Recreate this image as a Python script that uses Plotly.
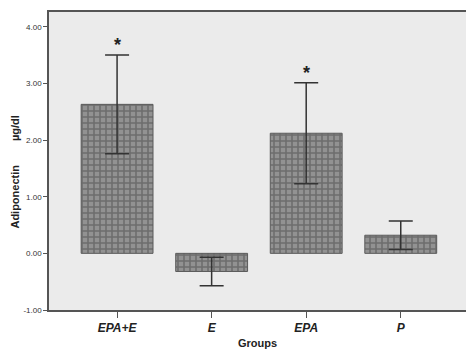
import plotly.graph_objects as go

groups = ["EPA+E", "E", "EPA", "P"]
means = [2.63, -0.32, 2.12, 0.32]
errors = [0.87, 0.25, 0.89, 0.25]
stars = ["*", "", "*", ""]
y_ticks = [-1.0, 0.0, 1.0, 2.0, 3.0, 4.0]
y_tick_labels = ["-1.00", "0.00", "1.00", "2.00", "3.00", "4.00"]

fig = go.Figure()
fig.add_trace(go.Bar(
    x=groups, y=means, width=0.76,
    marker=dict(
        color="#8c8c8c",
        line=dict(color="#5a5a5a", width=1),
        pattern=dict(shape="+", fgcolor="#474747", bgcolor="#929292", size=6, solidity=0.45),
    ),
    error_y=dict(type="data", array=errors, visible=True, color="#333333", thickness=1.5, width=12),
    showlegend=False,
    hoverinfo="skip",
))

for g, m, e, s in zip(groups, means, errors, stars):
    if s:
        fig.add_annotation(x=g, y=m + e, text="<b>*</b>", showarrow=False, yanchor="bottom",
                           yshift=-2, font=dict(size=18, color="#222222", family="Liberation Sans"))

fig.add_annotation(xref="paper", yref="paper", x=-0.082, y=0.38, text="<b>Adiponectin</b>",
                   textangle=-90, showarrow=False, xanchor="center", yanchor="middle",
                   font=dict(size=11, color="#222222", family="Liberation Sans"))
fig.add_annotation(xref="paper", yref="paper", x=-0.082, y=0.61, text="<b>µg/dl</b>",
                   textangle=-90, showarrow=False, xanchor="center", yanchor="middle",
                   font=dict(size=11, color="#222222", family="Liberation Sans"))

fig.update_layout(
    width=466, height=349,
    margin=dict(l=49, r=0, t=12, b=39),
    paper_bgcolor="white", plot_bgcolor="#ebebeb",
    font=dict(family="Liberation Sans", color="#333333"),
    xaxis=dict(
        range=[-0.72, 3.69], showgrid=False, zeroline=False,
        showline=True, linecolor="#555555", linewidth=1.5, mirror=True,
        ticks="outside", ticklen=6, tickcolor="#555555",
        tickfont=dict(size=12, color="#222222", family="Liberation Sans"),
        tickvals=groups, ticktext=["<b><i>%s</i></b>" % g for g in groups],
        title=dict(text="<b>Groups</b>", font=dict(size=11, color="#222222"), standoff=6),
    ),
    yaxis=dict(
        range=[-1.0, 4.26], showgrid=False, zeroline=False,
        showline=True, linecolor="#555555", linewidth=1.5, mirror=False,
        ticks="outside", ticklen=4, tickcolor="#555555",
        tickvals=y_ticks, ticktext=y_tick_labels,
        tickfont=dict(size=8, color="#333333"),
    ),
)

fig.write_html("out.html", config={"displayModeBar": False},
               post_script="document.body.style.margin='0';")
